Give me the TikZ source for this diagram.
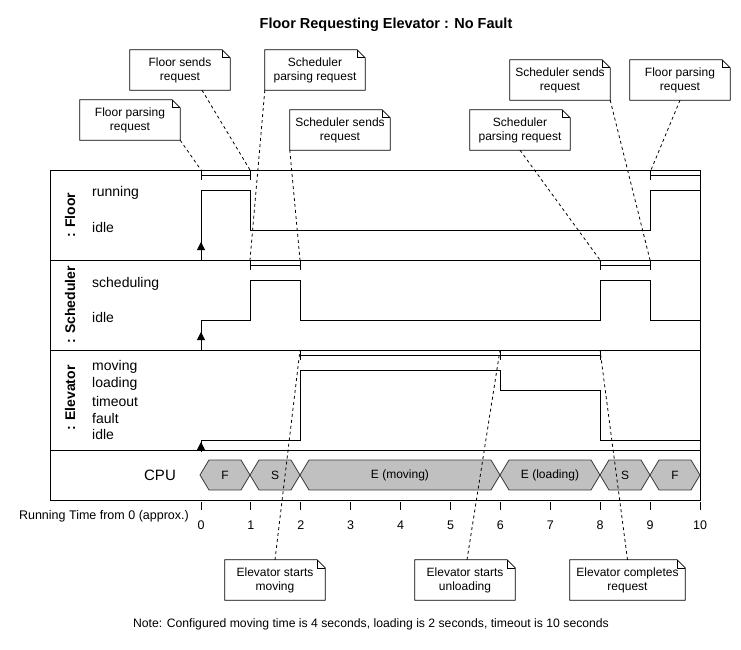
\documentclass[tikz,border=0pt]{standalone}
\usepackage{fontspec}
\setmainfont{Liberation Sans}
\usetikzlibrary{arrows.meta}
\definecolor{hexfill}{HTML}{C0C0C0}
\definecolor{hexline}{HTML}{3C3C3C}
\tikzset{
  notebox/.style={minimum width=100pt, minimum height=40pt, inner sep=0pt, align=center, font=\fontsize{12}{14}\selectfont},
  conn/.style={line width=0.8pt, dash pattern=on 3pt off 3pt},
  sig/.style={line width=1pt},
  frame/.style={line width=1pt},
  state/.style={anchor=west, inner sep=0pt, font=\fontsize{14}{16}\selectfont},
  lane/.style={rotate=90, inner sep=0pt, font=\bfseries\fontsize{14}{16}\selectfont},
  tlabel/.style={inner sep=0pt, font=\fontsize{12.5}{14}\selectfont},
  hexbox/.style={draw=hexline, fill=hexfill, line width=0.8pt},
  hextext/.style={inner sep=0pt, font=\fontsize{12}{14}\selectfont},
  starttip/.style={-{Triangle[length=8pt,width=8pt]}, line width=1pt}
}
\newcommand{\drawnote}[1]{%
  \draw[line width=0.8pt] (#1.south west) -- (#1.north west) -- ([xshift=-8pt]#1.north east) -- ([yshift=-8pt]#1.north east) -- (#1.south east) -- cycle;
  \draw[line width=0.6pt] ([xshift=-8pt]#1.north east) -- ([xshift=-8pt,yshift=-8pt]#1.north east) -- ([yshift=-8pt]#1.north east);}
\newcommand{\hexa}[4]{%
  \path[hexbox] (#2,475) -- ({#2+9},460) -- ({#3-9},460) -- (#3,475) -- ({#3-9},490) -- ({#2+9},490) -- cycle;
  \node[hextext] (#1) at ({(#2+#3)/2},475) {#4};}
\begin{document}
\begin{tikzpicture}[x=1pt,y=-1pt]
\useasboundingbox (0,0) rectangle (741,650);
\fill[white] (0,0) rectangle (741,650);

% title
\node[font=\bfseries\fontsize{14.5}{16}\selectfont] (title) at (386,25) {Floor Requesting Elevator : No Fault};

% frame and lanes
\draw[frame] (50,170) rectangle (700,500);
\draw[frame] (50,260) -- (700,260);
\draw[frame] (50,350) -- (700,350);
\draw[frame] (50,450) -- (700,450);

% lane labels
\node[lane] (lfloor) at (70,215) {: Floor};
\node[lane] (lsched) at (70,305) {: Scheduler};
\node[lane] (lelev) at (70,398) {: Elevator};

% state labels
\node[state] (f1) at (92,193) {running};
\node[state] (f2) at (92,227) {idle};
\node[state] (s1) at (92,284) {scheduling};
\node[state] (s2) at (92,317) {idle};
\node[state] (e1) at (92,367) {moving};
\node[state] (e2) at (92,384) {loading};
\node[state] (e3) at (92,401) {timeout};
\node[state] (e4) at (92,418) {fault};
\node[state] (e5) at (92,434) {idle};

% signals
\draw[sig] (201,260) -- (201,190) -- (250,190) -- (250,230) -- (650,230) -- (650,190) -- (700,190);
\draw[sig] (201,350) -- (201,320) -- (250,320) -- (250,280) -- (300,280) -- (300,320) -- (600,320) -- (600,280) -- (650,280) -- (650,320) -- (700,320);
\draw[sig] (201,450) -- (201,440) -- (300,440) -- (300,370) -- (500,370) -- (500,390) -- (600,390) -- (600,440) -- (700,440);
\draw[starttip] (201,254) -- (201,242);
\draw[starttip] (201,345) -- (201,332);
\draw[starttip] (201,452) -- (201,442);

% brackets
\draw[sig] (201,170) -- (201,180) (201,175) -- (250,175) (250,170) -- (250,180);
\draw[sig] (650,170) -- (650,180) (650,175) -- (700,175);
\draw[sig] (250,260) -- (250,270) (250,265) -- (300,265) (300,260) -- (300,270);
\draw[sig] (600,260) -- (600,270) (600,265) -- (650,265) (650,260) -- (650,270);
\draw[sig] (300,350) -- (300,360) (300,355) -- (600,355) (500,350) -- (500,360) (600,350) -- (600,360);

% CPU row
\node[font=\fontsize{15}{17}\selectfont, inner sep=0pt] (cpu) at (160,475) {CPU};
\hexa{h1}{200}{250}{F}
\hexa{h2}{250}{300}{S}
\hexa{h3}{300}{500}{E (moving)}
\hexa{h4}{500}{600}{E (loading)}
\hexa{h5}{600}{650}{S}
\hexa{h6}{650}{700}{F}

% time axis
\foreach \t in {0,...,10} {
  \draw[line width=1pt] ({201+49.9*\t},502) -- ({201+49.9*\t},510);
  \node[tlabel] (t\t) at ({201+49.9*\t},525) {\t};
}
\node[tlabel, anchor=east] (axislabel) at (189,516) {Running Time from 0 (approx.)};

% event coordinates
\coordinate (ev1) at (201,170);
\coordinate (ev2) at (250,170);
\coordinate (ev3) at (250,260);
\coordinate (ev4) at (300,260);
\coordinate (ev5) at (600,260);
\coordinate (ev6) at (650,260);
\coordinate (ev7) at (651,170);
\coordinate (ev8) at (300,350);
\coordinate (ev9) at (500,350);
\coordinate (ev10) at (600,350);

% notes
\node[notebox] (fpr1) at (130,120) {Floor parsing\\request};
\node[notebox] (fsr) at (180,70) {Floor sends\\request};
\node[notebox] (spr1) at (315,70) {Scheduler\\parsing request};
\node[notebox] (ssr1) at (340,130) {Scheduler sends\\request};
\node[notebox] (spr2) at (520,130) {Scheduler\\parsing request};
\node[notebox] (ssr2) at (560,80) {Scheduler sends\\request};
\node[notebox] (fpr2) at (680,80) {Floor parsing\\request};
\node[notebox] (esm) at (275,580) {Elevator starts\\moving};
\node[notebox] (esu) at (465,580) {Elevator starts\\unloading};
\node[notebox, minimum width=115pt] (ecr) at (627.5,580) {Elevator completes\\request};
\foreach \n in {fpr1,fsr,spr1,ssr1,spr2,ssr2,fpr2,esm,esu,ecr} {\drawnote{\n}}

% connectors
\draw[conn] (fpr1.south east) -- (ev1);
\draw[conn] ([xshift=22pt]fsr.south) -- (ev2);
\draw[conn] (spr1.south west) -- (ev3);
\draw[conn] (ssr1.south west) -- (ev4);
\draw[conn] (spr2.south) -- (ev5);
\draw[conn] (ssr2.south east) -- (ev6);
\draw[conn] (fpr2.south) -- (ev7);
\draw[conn] (esm.north) -- (ev8);
\draw[conn] ([xshift=2pt]esu.north) -- (ev9);
\draw[conn] (ecr.north) -- (ev10);

% footnote
\node[font=\fontsize{12.2}{14}\selectfont] (footnote) at (371,624) {Note: Configured moving time is 4 seconds, loading is 2 seconds, timeout is 10 seconds};
\end{tikzpicture}
\end{document}
